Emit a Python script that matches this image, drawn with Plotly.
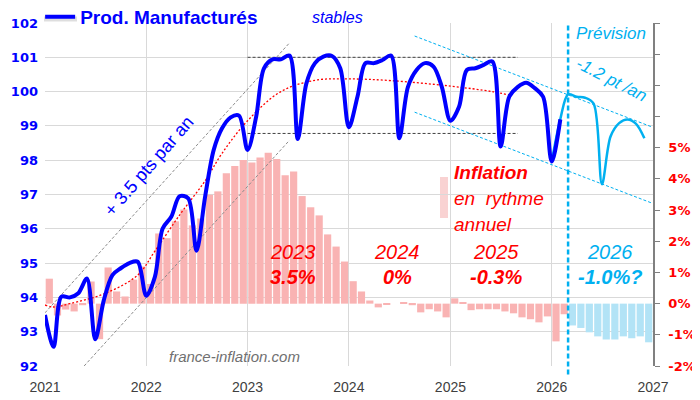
import pandas as pd
import plotly.graph_objects as go

# --- data ---
months = pd.date_range("2021-01-01", "2026-12-01", freq="MS")

# indice prod. manufacturés, jan 2021 -> fev 2026
index_actual = [
    93.49, 92.56, 94.02, 94.00, 94.12, 94.55, 92.78, 93.92, 94.65, 94.85, 95.00, 95.04,
    94.05, 94.60, 96.01, 96.35, 96.95, 96.89, 95.36, 96.94, 98.30, 98.93, 99.25, 99.30,
    98.30, 99.27, 100.68, 100.94, 100.94, 101.05, 98.62, 100.24, 100.83, 101.02, 101.04, 100.68,
    98.96, 99.85, 100.83, 100.83, 100.92, 101.05, 98.64, 100.14, 100.63, 100.83, 100.73, 100.14,
    99.15, 99.56, 100.63, 100.68, 100.78, 100.88, 98.40, 99.85, 100.14, 100.26, 100.10, 99.85,
    97.96, 99.19,
]
# prévision, jan 2026 -> dec 2026
index_forecast = [97.96, 99.20, 99.92, 99.85, 99.82, 99.65, 97.30, 98.69, 99.08, 99.19, 99.06, 98.64]

# inflation en rythme annuel (%), jan 2021 -> dec 2026
inflation_yoy = [
    0.80, -0.38, -0.19, -0.25, -0.05, 0.71, -1.14, 1.16, 0.39, 0.23, 0.77, 1.19,
    0.63, 2.25, 2.10, 2.64, 3.02, 2.51, 2.73, 3.49, 3.60, 4.18, 4.41, 4.61,
    4.53, 4.69, 4.84, 4.64, 4.12, 4.24, 3.45, 3.09, 2.83, 2.22, 1.83, 1.35,
    0.72, 0.39, 0.10, -0.12, -0.03, 0.00, 0.03, -0.05, -0.28, -0.18, -0.25, -0.44,
    0.17, 0.03, -0.21, -0.18, -0.18, -0.18, -0.25, -0.31, -0.44, -0.50, -0.60, -0.41,
    -1.21, -0.34, -0.70, -0.78, -0.92, -1.05, -1.15, -1.15, -1.05, -1.11, -1.05, -1.24,
]
n_actual_bars = 62  # jan 2021 -> fev 2026, ensuite prévision

# courbe de tendance (pointillés rouges)
trend_dates = ["2021-01-01", "2021-02-01", "2021-04-01", "2021-08-01", "2021-12-01", "2022-02-01",
               "2022-05-01", "2022-08-01", "2022-10-01", "2023-01-01", "2023-05-01", "2023-09-01",
               "2024-01-01", "2024-06-01", "2025-01-01", "2025-06-01", "2025-08-01"]
trend_values = [93.78, 93.72, 93.82, 94.10, 94.65, 95.35, 96.40, 97.40, 98.20, 99.15, 100.00, 100.33,
                100.37, 100.32, 100.16, 100.00, 99.90]

# droites de canal (début, fin)
rise_high_dates = ["2021-01-01", "2023-06-01"]
rise_high = [93.55, 101.42]
rise_low_dates = ["2021-05-22", "2023-06-01"]
rise_low = [92.0, 98.58]
flat_dates = ["2023-01-01", "2025-09-01"]
flat_high = [101.0, 101.0]
flat_low = [98.78, 98.78]
fall_dates = ["2024-08-25", "2026-12-28"]
fall_high = [101.62, 98.97]
fall_low = [99.40, 96.75]
forecast_start = "2026-03-01"

year_names = ["2023", "2024", "2025", "2026"]
year_rates = ["3.5%", "0%", "-0.3%", "-1.0%?"]

BLUE = "#0000FF"
SKY = "#00B0F0"
RED = "#FF0000"
PINK = "#F9B3B3"
SKY_BAR = "#B2E3F6"
GRID = "#D9D9D9"

# the page body has an 8px margin, so the figure is 692x392 and its
# plot area lands on screen pixels x 45..653, y 23..366
def px(x):
    return (x - 45) / 608.0


def py(y):
    return (366 - y) / 343.0


fig = go.Figure()

bar_colors = [PINK] * n_actual_bars + [SKY_BAR] * (len(inflation_yoy) - n_actual_bars)
fig.add_trace(go.Bar(
    x=months, y=inflation_yoy, xperiod="M1", xperiodalignment="middle",
    marker=dict(color=bar_colors, line=dict(width=0)), showlegend=False, yaxis="y",
))

dash_small = "3px,2px"
for d, v, col in [
    (rise_high_dates, rise_high, "#8C8C8C"),
    (rise_low_dates, rise_low, "#8C8C8C"),
    (flat_dates, flat_high, "#404040"),
    (flat_dates, flat_low, "#404040"),
    (fall_dates, fall_high, SKY),
    (fall_dates, fall_low, SKY),
]:
    fig.add_trace(go.Scatter(x=d, y=v, mode="lines", yaxis="y2", showlegend=False,
                             line=dict(color=col, width=1, dash=dash_small), hoverinfo="skip"))

fig.add_trace(go.Scatter(
    x=trend_dates, y=trend_values, mode="lines", yaxis="y2", showlegend=False,
    line=dict(color=RED, width=1.3, dash="2px,2px", shape="spline", smoothing=1.0),
))

forecast_months = months[len(index_actual) - 2:]
fig.add_trace(go.Scatter(
    x=forecast_months, y=index_forecast, mode="lines", yaxis="y2", showlegend=False,
    line=dict(color=SKY, width=2.5, shape="spline", smoothing=0.9),
))
fig.add_trace(go.Scatter(
    x=months[:len(index_actual)], y=index_actual, mode="lines", yaxis="y2",
    name="Prod. Manufacturés",
    line=dict(color=BLUE, width=4, shape="spline", smoothing=0.9),
))

shapes = [
    dict(type="line", xref="x", yref="paper", x0=forecast_start, x1=forecast_start,
         y0=-0.025, y1=1, line=dict(color=SKY, width=2.5, dash="5px,3px")),
    dict(type="rect", xref="paper", yref="paper", x0=px(440), x1=px(448), y0=py(218), y1=py(177),
         fillcolor="#F9D2D2", line=dict(width=0), layer="below"),
    dict(type="line", xref="paper", yref="paper", x0=px(44), x1=px(77), y0=py(19), y1=py(19),
         line=dict(color="rgba(0,0,0,0.13)", width=5)),
]

ann = []


def add_text(text, x, y, size, color, xanchor="center", angle=0, family="Arial"):
    ann.append(dict(text=text, x=px(x), y=py(y), xref="paper", yref="paper", showarrow=False,
                    xanchor=xanchor, yanchor="middle", textangle=angle,
                    font=dict(size=size, color=color, family=family)))


add_text("<i>stables</i>", 337, 18, 16, BLUE)
add_text("<i>Prévision</i>", 611, 34, 17, SKY)
add_text("<i>-1.2 pt /an</i>", 611, 80, 17, SKY, angle=27)
add_text("+ 3.5 pts par an", 149, 166, 18, BLUE, angle=-49)
add_text("<b><i>Inflation</i></b>", 452, 172, 19, RED, xanchor="left")
add_text("<i>en  rythme</i>", 452, 198, 19, RED, xanchor="left")
add_text("<i>annuel</i>", 452, 224, 19, RED, xanchor="left")
for name, rate, xc in zip(year_names, year_rates, [293, 397, 496, 610]):
    col = SKY if name == "2026" else RED
    add_text("<i>%s</i>" % name, xc, 252, 20, col)
    add_text("<b><i>%s</i></b>" % rate, xc, 277, 20, col)
add_text("<i>france-inflation.com</i>", 234, 356, 15, "#707070")

fig.update_layout(
    width=692, height=392,
    margin=dict(l=37, r=47, t=15, b=34, autoexpand=False),
    paper_bgcolor="white", plot_bgcolor="white",
    bargap=0.12,
    showlegend=True,
    legend=dict(x=-0.008, y=py(17), xanchor="left", yanchor="middle", orientation="h",
                bgcolor="rgba(0,0,0,0)", font=dict(size=19, color=BLUE, family="Arial", weight="bold")),
    xaxis=dict(type="date", range=["2021-01-01", "2027-01-01"],
               tickvals=["%d-01-01" % y for y in range(2021, 2028)],
               ticktext=[str(y) for y in range(2021, 2028)],
               showgrid=True, gridcolor=GRID, gridwidth=1, zeroline=False, showline=False,
               ticklabelstandoff=11, tickfont=dict(size=14, color="#404040", family="Arial")),
    yaxis=dict(side="right", range=[-2, 9], tickvals=list(range(-2, 10)),
               ticktext=["%d%%" % v if v <= 5 else "" for v in range(-2, 10)],
               showgrid=False, zeroline=False, showline=True, linecolor="#808080", linewidth=1.5,
               ticks="outside", ticklen=5, tickcolor="#808080", ticklabelstandoff=6,
               tickfont=dict(size=13, color=RED, family="DejaVu Sans", weight="bold")),
    yaxis2=dict(overlaying="y", side="left", range=[92, 102], dtick=1,
                showgrid=True, gridcolor=GRID, gridwidth=1, zeroline=False, showline=False,
                ticklabelstandoff=6,
                tickfont=dict(size=13, color=BLUE, family="DejaVu Sans", weight="bold")),
    shapes=shapes,
    annotations=ann,
)

fig.write_html("out.html")
